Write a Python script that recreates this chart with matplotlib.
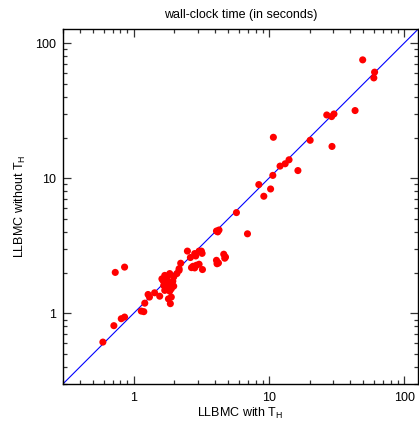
"""
Scatter: tempo de relógio do LLBMC com e sem T_H (escala log-log).

Output:
    out.png
"""
import matplotlib
matplotlib.use("Agg")
import matplotlib.pyplot as plt
from matplotlib.ticker import LogLocator, NullFormatter, FixedLocator, FixedFormatter

plt.rcParams["font.family"] = ["Liberation Sans", "DejaVu Sans"]
plt.rcParams["mathtext.fontset"] = "custom"
plt.rcParams["mathtext.rm"] = "Liberation Sans"
plt.rcParams["mathtext.it"] = "Liberation Sans"

# Valores (segundos)
with_th = [49.4, 60.5, 59.7, 43.4, 26.8, 29.1, 30.3, 10.8, 20.2, 29.3,
           14.1, 13.2, 12.1, 16.4, 10.7, 8.43, 10.3, 9.18, 5.76, 4.10,
           4.28, 4.19, 6.95, 2.50, 2.83, 3.05, 3.17, 3.21, 2.63, 2.88,
           4.64, 4.78, 4.72, 2.23, 4.10, 4.24, 4.14, 2.75, 2.91, 3.05,
           2.83, 2.68, 3.23, 2.17, 2.09, 0.732, 0.858, 1.70, 1.85, 1.98,
           1.65, 1.80, 1.95, 1.67, 1.83, 1.98, 1.70, 1.85, 1.90, 1.87,
           2.17, 1.43, 1.28, 1.56, 1.81, 1.21, 1.14, 1.19, 0.811, 0.858,
           0.715, 0.593, 1.31, 1.75, 1.90, 1.62, 1.78, 1.72]
without_th = [75.2, 61.0, 55.3, 31.7, 29.4, 28.6, 29.9, 20.1, 19.1, 17.2,
              13.7, 12.8, 12.3, 11.4, 10.5, 8.98, 8.33, 7.36, 5.57, 4.07,
              4.14, 4.01, 3.88, 2.89, 2.77, 2.89, 2.89, 2.78, 2.59, 2.66,
              2.74, 2.61, 2.56, 2.35, 2.47, 2.36, 2.33, 2.23, 2.27, 2.31,
              2.17, 2.18, 2.11, 2.08, 1.97, 2.01, 2.20, 1.91, 1.97, 1.86,
              1.75, 1.71, 1.73, 1.61, 1.57, 1.59, 1.48, 1.46, 1.32, 1.18,
              2.14, 1.42, 1.38, 1.34, 1.28, 1.19, 1.04, 1.03, 0.913, 0.939,
              0.811, 0.613, 1.32, 1.65, 1.52, 1.80, 1.88, 1.55]

lim = [0.3, 127]
major = [1, 10, 100]
major_labels = ["1", "10", "100"]

fig = plt.figure(figsize=(4.19, 4.22), dpi=100)
ax = fig.add_axes([0.150, 0.090, 0.848, 0.841])

ax.plot(lim, lim, color="#0000ff", lw=0.8, zorder=1)
ax.scatter(with_th, without_th, s=26, color="#ff0000", edgecolors="none",
           zorder=2)

ax.set_xscale("log")
ax.set_yscale("log")
ax.set_xlim(lim)
ax.set_ylim(lim)

for eixo in (ax.xaxis, ax.yaxis):
    eixo.set_major_locator(FixedLocator(major))
    eixo.set_major_formatter(FixedFormatter(major_labels))
    eixo.set_minor_locator(LogLocator(base=10, subs=range(2, 10)))
    eixo.set_minor_formatter(NullFormatter())

ax.tick_params(which="both", direction="in", top=True, right=True,
               color="#333333", labelsize=9)
ax.tick_params(axis="x", pad=6)
ax.tick_params(axis="y", pad=5)
ax.tick_params(which="major", length=6, width=0.9)
ax.tick_params(which="minor", length=3, width=0.9)
for sp in ax.spines.values():
    sp.set_linewidth(1.0)

ax.set_title("wall-clock time (in seconds)", fontsize=9, pad=8)
ax.set_xlabel(r"LLBMC with T$_\mathrm{H}$", fontsize=9, labelpad=1)
ax.set_ylabel(r"LLBMC without T$_\mathrm{H}$", fontsize=9, labelpad=5)

fig.savefig("out.png", dpi=100)
plt.close(fig)
